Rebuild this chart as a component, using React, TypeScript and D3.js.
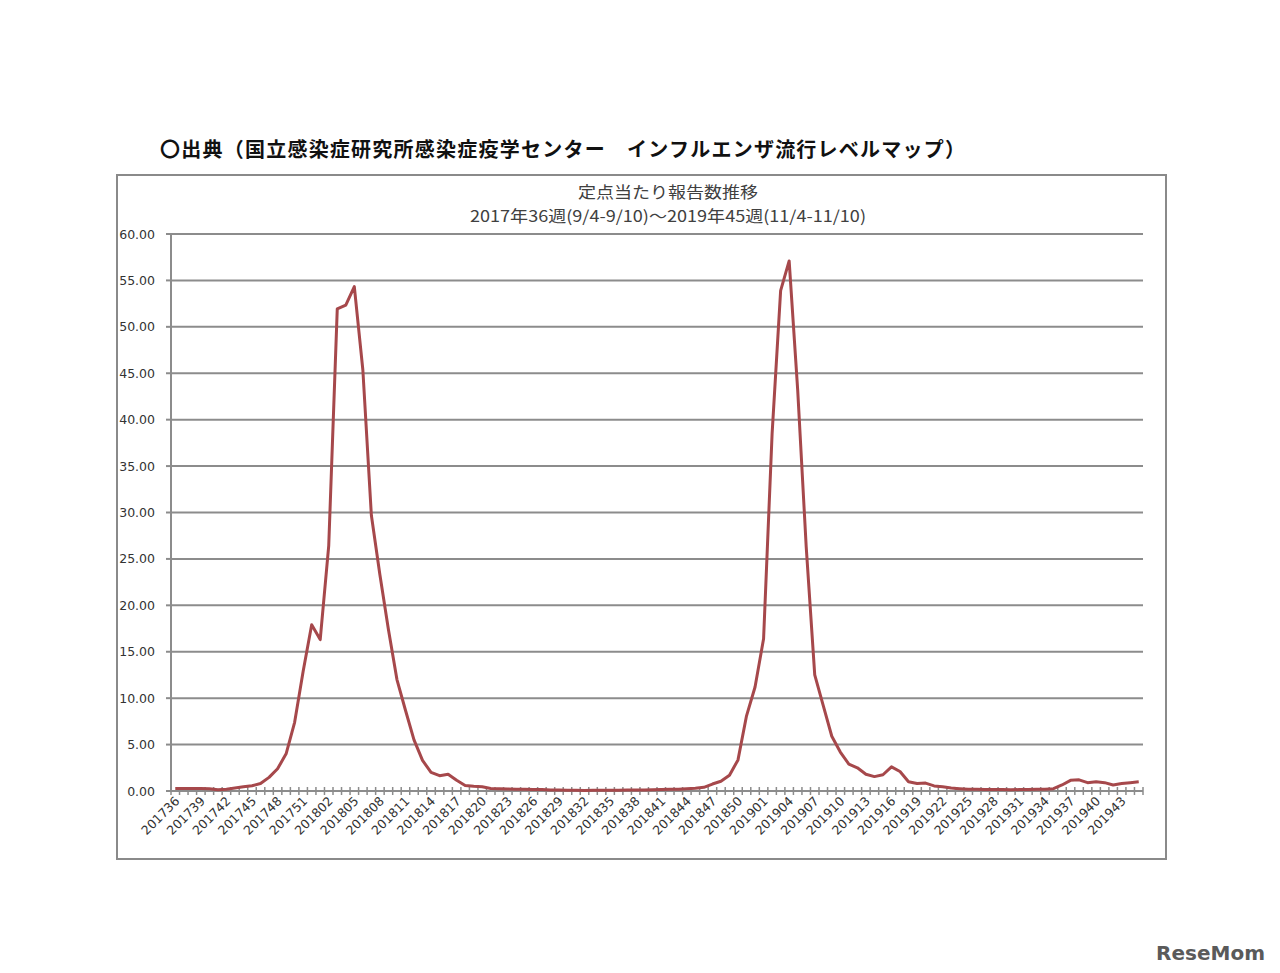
import * as d3 from 'd3'

// 定点当たり報告数 (per sentinel)
const values2017 = [
  0.27, 0.28, 0.27, 0.28, 0.25, 0.14, 0.2, 0.32, 0.45, 0.57, 0.8, 1.47, 2.4, 4.0, 7.4, 12.9, 17.9,
]
const values2018 = [
  16.31, 26.44, 51.93, 52.35, 54.33, 45.38, 29.7, 23.3, 17.4, 12.0,
  8.7, 5.5, 3.3, 2.0, 1.65, 1.8, 1.15, 0.6, 0.5, 0.45,
  0.28, 0.25, 0.22, 0.2, 0.18, 0.16, 0.15, 0.12, 0.1, 0.08,
  0.07, 0.06, 0.07, 0.07, 0.08, 0.09, 0.1, 0.11, 0.12, 0.13,
  0.15, 0.18, 0.2, 0.25, 0.3, 0.4, 0.75, 1.05, 1.7, 3.35,
  8.1, 11.2,
]
const values2019 = [
  16.4, 38.5, 53.9, 57.1, 43.2, 26.3, 12.5, 9.2, 5.9, 4.2,
  2.9, 2.5, 1.8, 1.55, 1.75, 2.6, 2.1, 1.0, 0.8, 0.85,
  0.55, 0.45, 0.32, 0.25, 0.2, 0.18, 0.15, 0.17, 0.15, 0.14,
  0.15, 0.16, 0.18, 0.2, 0.25, 0.65, 1.15, 1.2, 0.9, 1.0,
  0.9, 0.65, 0.8, 0.9, 1.0,
]
const yTicks = [0, 5, 10, 15, 20, 25, 30, 35, 40, 45, 50, 55, 60]

const weekLabels = (year: number, from: number, count: number) =>
  Array.from({ length: count }, (_, k) => `${year}${String(from + k).padStart(2, '0')}`)

const categories = [
  ...weekLabels(2017, 36, values2017.length),
  ...weekLabels(2018, 1, values2018.length),
  ...weekLabels(2019, 1, values2019.length),
]
const values = [...values2017, ...values2018, ...values2019]

const W = 1280
const H = 973
const plot = { left: 171, right: 1143, top: 234, bottom: 791 }

export default function App() {
  const x = d3.scaleBand<string>().domain(categories).range([plot.left, plot.right])
  const y = d3.scaleLinear().domain([0, 60]).range([plot.bottom, plot.top])
  const cx = (c: string) => (x(c) as number) + x.bandwidth() / 2

  const line = d3
    .line<number>()
    .x((_, i) => cx(categories[i]))
    .y((d) => y(d))

  const boundaries = categories.map((c) => x(c) as number).concat(plot.right)

  return (
    <div style={{ position: 'absolute', left: 0, top: 0 }}>
      <svg width={W} height={H} style={{ display: 'block', background: '#fff' }}>
        {/* heading */}
        <text
          x={160}
          y={157}
          fontFamily="'Noto Sans CJK JP', sans-serif"
          fontWeight="bold"
          fontSize={20}
          fill="#111"
          textLength={805}
          lengthAdjust="spacing"
        >
          〇出典（国立感染症研究所感染症疫学センター　インフルエンザ流行レベルマップ）
        </text>

        {/* chart frame */}
        <rect x={117} y={175} width={1049} height={684} fill="#fff" stroke="#8a8a8a" strokeWidth={2} />

        {/* chart title */}
        <g fontFamily="'Noto Sans CJK JP', sans-serif" fontSize={16} fill="#404040" textAnchor="middle">
          <text x={668} y={198} textLength={180} lengthAdjust="spacingAndGlyphs">定点当たり報告数推移</text>
          <text x={668} y={222} textLength={396} lengthAdjust="spacingAndGlyphs">
            2017年36週(9/4-9/10)～2019年45週(11/4-11/10)
          </text>
        </g>

        {/* gridlines + y labels */}
        {yTicks.map((t) => (
          <g key={t}>
            {t > 0 && (
              <line x1={plot.left} x2={plot.right} y1={y(t)} y2={y(t)} stroke="#8c8c8c" strokeWidth={2} />
            )}
            <line x1={plot.left - 5} x2={plot.left} y1={y(t)} y2={y(t)} stroke="#8c8c8c" strokeWidth={2} />
            <text
              x={155}
              y={y(t) + 4.5}
              textAnchor="end"
              fontFamily="'DejaVu Sans', Verdana, sans-serif"
              fontSize={12.5}
              fill="#333"
            >
              {t.toFixed(2)}
            </text>
          </g>
        ))}

        {/* y axis */}
        <line x1={plot.left} x2={plot.left} y1={plot.top} y2={plot.bottom} stroke="#8c8c8c" strokeWidth={2} />
        {/* x axis */}
        <line x1={plot.left} x2={plot.right} y1={plot.bottom} y2={plot.bottom} stroke="#8c8c8c" strokeWidth={2} />
        {boundaries.map((b, i) => (
          <line key={i} x1={b} x2={b} y1={plot.bottom - 4} y2={plot.bottom + 4} stroke="#8c8c8c" strokeWidth={1.5} />
        ))}

        {/* x labels */}
        {categories.map((c, i) =>
          i % 3 === 0 ? (
            <text
              key={c}
              transform={`translate(${cx(c) + 5},${plot.bottom + 11}) rotate(-45)`}
              textAnchor="end"
              fontFamily="'DejaVu Sans', Verdana, sans-serif"
              fontSize={12.5}
              fill="#333"
            >
              {c}
            </text>
          ) : null,
        )}

        {/* series */}
        <path d={line(values) ?? ''} fill="none" stroke="#a6484b" strokeWidth={3} strokeLinejoin="round" />

        {/* watermark */}
        <text
          x={1265}
          y={960}
          textAnchor="end"
          fontFamily="'DejaVu Sans', sans-serif"
          fontWeight="bold"
          fontSize={20}
          fill="#5a5a5a"
        >
          ReseMom
        </text>
      </svg>
    </div>
  )
}
